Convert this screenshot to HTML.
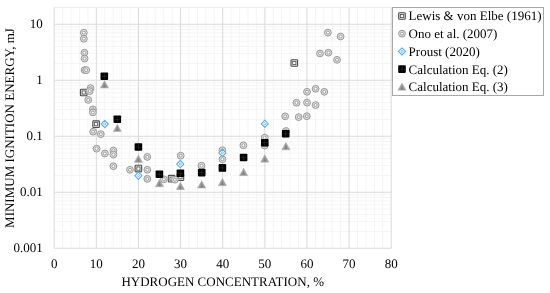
<!DOCTYPE html>
<html><head><meta charset="utf-8"><style>
html,body{margin:0;padding:0;background:#fff;width:550px;height:293px;overflow:hidden;font-family:"Liberation Serif",serif}
text{text-rendering:geometricPrecision}
</style></head><body>
<svg width="550" height="293" viewBox="0 0 550 293" style="position:absolute;left:0;top:0;filter:blur(0.3px)">

<rect width="550" height="293" fill="#fff"/>
<line x1="62.62" y1="7.39" x2="62.62" y2="248.25" stroke="#f5f5f5" stroke-width="1"/>
<line x1="71.05" y1="7.39" x2="71.05" y2="248.25" stroke="#f5f5f5" stroke-width="1"/>
<line x1="79.48" y1="7.39" x2="79.48" y2="248.25" stroke="#f5f5f5" stroke-width="1"/>
<line x1="87.90" y1="7.39" x2="87.90" y2="248.25" stroke="#f5f5f5" stroke-width="1"/>
<line x1="104.75" y1="7.39" x2="104.75" y2="248.25" stroke="#f5f5f5" stroke-width="1"/>
<line x1="113.18" y1="7.39" x2="113.18" y2="248.25" stroke="#f5f5f5" stroke-width="1"/>
<line x1="121.60" y1="7.39" x2="121.60" y2="248.25" stroke="#f5f5f5" stroke-width="1"/>
<line x1="130.03" y1="7.39" x2="130.03" y2="248.25" stroke="#f5f5f5" stroke-width="1"/>
<line x1="146.88" y1="7.39" x2="146.88" y2="248.25" stroke="#f5f5f5" stroke-width="1"/>
<line x1="155.30" y1="7.39" x2="155.30" y2="248.25" stroke="#f5f5f5" stroke-width="1"/>
<line x1="163.73" y1="7.39" x2="163.73" y2="248.25" stroke="#f5f5f5" stroke-width="1"/>
<line x1="172.15" y1="7.39" x2="172.15" y2="248.25" stroke="#f5f5f5" stroke-width="1"/>
<line x1="189.00" y1="7.39" x2="189.00" y2="248.25" stroke="#f5f5f5" stroke-width="1"/>
<line x1="197.43" y1="7.39" x2="197.43" y2="248.25" stroke="#f5f5f5" stroke-width="1"/>
<line x1="205.85" y1="7.39" x2="205.85" y2="248.25" stroke="#f5f5f5" stroke-width="1"/>
<line x1="214.28" y1="7.39" x2="214.28" y2="248.25" stroke="#f5f5f5" stroke-width="1"/>
<line x1="231.12" y1="7.39" x2="231.12" y2="248.25" stroke="#f5f5f5" stroke-width="1"/>
<line x1="239.55" y1="7.39" x2="239.55" y2="248.25" stroke="#f5f5f5" stroke-width="1"/>
<line x1="247.98" y1="7.39" x2="247.98" y2="248.25" stroke="#f5f5f5" stroke-width="1"/>
<line x1="256.40" y1="7.39" x2="256.40" y2="248.25" stroke="#f5f5f5" stroke-width="1"/>
<line x1="273.25" y1="7.39" x2="273.25" y2="248.25" stroke="#f5f5f5" stroke-width="1"/>
<line x1="281.68" y1="7.39" x2="281.68" y2="248.25" stroke="#f5f5f5" stroke-width="1"/>
<line x1="290.10" y1="7.39" x2="290.10" y2="248.25" stroke="#f5f5f5" stroke-width="1"/>
<line x1="298.53" y1="7.39" x2="298.53" y2="248.25" stroke="#f5f5f5" stroke-width="1"/>
<line x1="315.38" y1="7.39" x2="315.38" y2="248.25" stroke="#f5f5f5" stroke-width="1"/>
<line x1="323.80" y1="7.39" x2="323.80" y2="248.25" stroke="#f5f5f5" stroke-width="1"/>
<line x1="332.23" y1="7.39" x2="332.23" y2="248.25" stroke="#f5f5f5" stroke-width="1"/>
<line x1="340.65" y1="7.39" x2="340.65" y2="248.25" stroke="#f5f5f5" stroke-width="1"/>
<line x1="357.50" y1="7.39" x2="357.50" y2="248.25" stroke="#f5f5f5" stroke-width="1"/>
<line x1="365.93" y1="7.39" x2="365.93" y2="248.25" stroke="#f5f5f5" stroke-width="1"/>
<line x1="374.35" y1="7.39" x2="374.35" y2="248.25" stroke="#f5f5f5" stroke-width="1"/>
<line x1="382.78" y1="7.39" x2="382.78" y2="248.25" stroke="#f5f5f5" stroke-width="1"/>
<line x1="54.20" y1="231.39" x2="391.20" y2="231.39" stroke="#f5f5f5" stroke-width="1"/>
<line x1="54.20" y1="221.53" x2="391.20" y2="221.53" stroke="#f5f5f5" stroke-width="1"/>
<line x1="54.20" y1="214.53" x2="391.20" y2="214.53" stroke="#f5f5f5" stroke-width="1"/>
<line x1="54.20" y1="209.11" x2="391.20" y2="209.11" stroke="#f5f5f5" stroke-width="1"/>
<line x1="54.20" y1="204.67" x2="391.20" y2="204.67" stroke="#f5f5f5" stroke-width="1"/>
<line x1="54.20" y1="200.92" x2="391.20" y2="200.92" stroke="#f5f5f5" stroke-width="1"/>
<line x1="54.20" y1="197.68" x2="391.20" y2="197.68" stroke="#f5f5f5" stroke-width="1"/>
<line x1="54.20" y1="194.81" x2="391.20" y2="194.81" stroke="#f5f5f5" stroke-width="1"/>
<line x1="54.20" y1="175.39" x2="391.20" y2="175.39" stroke="#f5f5f5" stroke-width="1"/>
<line x1="54.20" y1="165.53" x2="391.20" y2="165.53" stroke="#f5f5f5" stroke-width="1"/>
<line x1="54.20" y1="158.53" x2="391.20" y2="158.53" stroke="#f5f5f5" stroke-width="1"/>
<line x1="54.20" y1="153.11" x2="391.20" y2="153.11" stroke="#f5f5f5" stroke-width="1"/>
<line x1="54.20" y1="148.67" x2="391.20" y2="148.67" stroke="#f5f5f5" stroke-width="1"/>
<line x1="54.20" y1="144.92" x2="391.20" y2="144.92" stroke="#f5f5f5" stroke-width="1"/>
<line x1="54.20" y1="141.68" x2="391.20" y2="141.68" stroke="#f5f5f5" stroke-width="1"/>
<line x1="54.20" y1="138.81" x2="391.20" y2="138.81" stroke="#f5f5f5" stroke-width="1"/>
<line x1="54.20" y1="119.39" x2="391.20" y2="119.39" stroke="#f5f5f5" stroke-width="1"/>
<line x1="54.20" y1="109.53" x2="391.20" y2="109.53" stroke="#f5f5f5" stroke-width="1"/>
<line x1="54.20" y1="102.53" x2="391.20" y2="102.53" stroke="#f5f5f5" stroke-width="1"/>
<line x1="54.20" y1="97.11" x2="391.20" y2="97.11" stroke="#f5f5f5" stroke-width="1"/>
<line x1="54.20" y1="92.67" x2="391.20" y2="92.67" stroke="#f5f5f5" stroke-width="1"/>
<line x1="54.20" y1="88.92" x2="391.20" y2="88.92" stroke="#f5f5f5" stroke-width="1"/>
<line x1="54.20" y1="85.68" x2="391.20" y2="85.68" stroke="#f5f5f5" stroke-width="1"/>
<line x1="54.20" y1="82.81" x2="391.20" y2="82.81" stroke="#f5f5f5" stroke-width="1"/>
<line x1="54.20" y1="63.39" x2="391.20" y2="63.39" stroke="#f5f5f5" stroke-width="1"/>
<line x1="54.20" y1="53.53" x2="391.20" y2="53.53" stroke="#f5f5f5" stroke-width="1"/>
<line x1="54.20" y1="46.53" x2="391.20" y2="46.53" stroke="#f5f5f5" stroke-width="1"/>
<line x1="54.20" y1="41.11" x2="391.20" y2="41.11" stroke="#f5f5f5" stroke-width="1"/>
<line x1="54.20" y1="36.67" x2="391.20" y2="36.67" stroke="#f5f5f5" stroke-width="1"/>
<line x1="54.20" y1="32.92" x2="391.20" y2="32.92" stroke="#f5f5f5" stroke-width="1"/>
<line x1="54.20" y1="29.68" x2="391.20" y2="29.68" stroke="#f5f5f5" stroke-width="1"/>
<line x1="54.20" y1="26.81" x2="391.20" y2="26.81" stroke="#f5f5f5" stroke-width="1"/>
<line x1="54.20" y1="7.39" x2="391.20" y2="7.39" stroke="#f5f5f5" stroke-width="1"/>
<line x1="54.20" y1="7.39" x2="391.20" y2="7.39" stroke="#ececec" stroke-width="1"/>
<line x1="54.20" y1="7.39" x2="54.20" y2="248.25" stroke="#dadada" stroke-width="1"/>
<line x1="96.33" y1="7.39" x2="96.33" y2="248.25" stroke="#dadada" stroke-width="1"/>
<line x1="138.45" y1="7.39" x2="138.45" y2="248.25" stroke="#dadada" stroke-width="1"/>
<line x1="180.58" y1="7.39" x2="180.58" y2="248.25" stroke="#dadada" stroke-width="1"/>
<line x1="222.70" y1="7.39" x2="222.70" y2="248.25" stroke="#dadada" stroke-width="1"/>
<line x1="264.83" y1="7.39" x2="264.83" y2="248.25" stroke="#dadada" stroke-width="1"/>
<line x1="306.95" y1="7.39" x2="306.95" y2="248.25" stroke="#dadada" stroke-width="1"/>
<line x1="349.07" y1="7.39" x2="349.07" y2="248.25" stroke="#dadada" stroke-width="1"/>
<line x1="391.20" y1="7.39" x2="391.20" y2="248.25" stroke="#dadada" stroke-width="1"/>
<line x1="54.20" y1="248.25" x2="391.20" y2="248.25" stroke="#dadada" stroke-width="1"/>
<line x1="54.20" y1="192.25" x2="391.20" y2="192.25" stroke="#dadada" stroke-width="1"/>
<line x1="54.20" y1="136.25" x2="391.20" y2="136.25" stroke="#dadada" stroke-width="1"/>
<line x1="54.20" y1="80.25" x2="391.20" y2="80.25" stroke="#dadada" stroke-width="1"/>
<line x1="54.20" y1="24.25" x2="391.20" y2="24.25" stroke="#dadada" stroke-width="1"/>
<g transform="translate(83.7,92.5)"><rect x="-3.3" y="-3.3" width="6.6" height="6.6" rx="0.8" fill="#e0e0e0" stroke="#505050" stroke-width="1.1"/><rect x="-1.6" y="-1.6" width="3.2" height="3.2" fill="#fff" stroke="#5a5a5a" stroke-width="0.85"/></g>
<g transform="translate(96.1,124.2)"><rect x="-3.3" y="-3.3" width="6.6" height="6.6" rx="0.8" fill="#e0e0e0" stroke="#505050" stroke-width="1.1"/><rect x="-1.6" y="-1.6" width="3.2" height="3.2" fill="#fff" stroke="#5a5a5a" stroke-width="0.85"/></g>
<g transform="translate(138.4,168.6)"><rect x="-3.3" y="-3.3" width="6.6" height="6.6" rx="0.8" fill="#e0e0e0" stroke="#505050" stroke-width="1.1"/><rect x="-1.6" y="-1.6" width="3.2" height="3.2" fill="#fff" stroke="#5a5a5a" stroke-width="0.85"/></g>
<g transform="translate(171.6,178.7)"><rect x="-3.3" y="-3.3" width="6.6" height="6.6" rx="0.8" fill="#e0e0e0" stroke="#505050" stroke-width="1.1"/><rect x="-1.6" y="-1.6" width="3.2" height="3.2" fill="#fff" stroke="#5a5a5a" stroke-width="0.85"/></g>
<g transform="translate(180.4,177.2)"><rect x="-3.3" y="-3.3" width="6.6" height="6.6" rx="0.8" fill="#e0e0e0" stroke="#505050" stroke-width="1.1"/><rect x="-1.6" y="-1.6" width="3.2" height="3.2" fill="#fff" stroke="#5a5a5a" stroke-width="0.85"/></g>
<g transform="translate(294.3,63)"><rect x="-3.3" y="-3.3" width="6.6" height="6.6" rx="0.8" fill="#e0e0e0" stroke="#505050" stroke-width="1.1"/><rect x="-1.6" y="-1.6" width="3.2" height="3.2" fill="#fff" stroke="#5a5a5a" stroke-width="0.85"/></g>
<g transform="translate(83.8,32.7)"><circle r="3.4" fill="#dedede" stroke="#999" stroke-width="1"/><circle r="1.5" fill="#fff" stroke="#999" stroke-width="0.9"/></g>
<g transform="translate(83.8,38.7)"><circle r="3.4" fill="#dedede" stroke="#999" stroke-width="1"/><circle r="1.5" fill="#fff" stroke="#999" stroke-width="0.9"/></g>
<g transform="translate(84.4,52.7)"><circle r="3.4" fill="#dedede" stroke="#999" stroke-width="1"/><circle r="1.5" fill="#fff" stroke="#999" stroke-width="0.9"/></g>
<g transform="translate(84.6,58.6)"><circle r="3.4" fill="#dedede" stroke="#999" stroke-width="1"/><circle r="1.5" fill="#fff" stroke="#999" stroke-width="0.9"/></g>
<g transform="translate(84.6,70.1)"><circle r="3.4" fill="#dedede" stroke="#999" stroke-width="1"/><circle r="1.5" fill="#fff" stroke="#999" stroke-width="0.9"/></g>
<g transform="translate(86.2,70.1)"><circle r="3.4" fill="#dedede" stroke="#999" stroke-width="1"/><circle r="1.5" fill="#fff" stroke="#999" stroke-width="0.9"/></g>
<g transform="translate(90.6,88.1)"><circle r="3.4" fill="#dedede" stroke="#999" stroke-width="1"/><circle r="1.5" fill="#fff" stroke="#999" stroke-width="0.9"/></g>
<g transform="translate(89.7,91.1)"><circle r="3.4" fill="#dedede" stroke="#999" stroke-width="1"/><circle r="1.5" fill="#fff" stroke="#999" stroke-width="0.9"/></g>
<g transform="translate(88.2,99.9)"><circle r="3.4" fill="#dedede" stroke="#999" stroke-width="1"/><circle r="1.5" fill="#fff" stroke="#999" stroke-width="0.9"/></g>
<g transform="translate(92.9,109.3)"><circle r="3.4" fill="#dedede" stroke="#999" stroke-width="1"/><circle r="1.5" fill="#fff" stroke="#999" stroke-width="0.9"/></g>
<g transform="translate(92.9,112.4)"><circle r="3.4" fill="#dedede" stroke="#999" stroke-width="1"/><circle r="1.5" fill="#fff" stroke="#999" stroke-width="0.9"/></g>
<g transform="translate(93.1,131.7)"><circle r="3.4" fill="#dedede" stroke="#999" stroke-width="1"/><circle r="1.5" fill="#fff" stroke="#999" stroke-width="0.9"/></g>
<g transform="translate(100.8,134.1)"><circle r="3.4" fill="#dedede" stroke="#999" stroke-width="1"/><circle r="1.5" fill="#fff" stroke="#999" stroke-width="0.9"/></g>
<g transform="translate(96.6,148.7)"><circle r="3.4" fill="#dedede" stroke="#999" stroke-width="1"/><circle r="1.5" fill="#fff" stroke="#999" stroke-width="0.9"/></g>
<g transform="translate(104.9,153.5)"><circle r="3.4" fill="#dedede" stroke="#999" stroke-width="1"/><circle r="1.5" fill="#fff" stroke="#999" stroke-width="0.9"/></g>
<g transform="translate(113.4,150.5)"><circle r="3.4" fill="#dedede" stroke="#999" stroke-width="1"/><circle r="1.5" fill="#fff" stroke="#999" stroke-width="0.9"/></g>
<g transform="translate(113.4,154.6)"><circle r="3.4" fill="#dedede" stroke="#999" stroke-width="1"/><circle r="1.5" fill="#fff" stroke="#999" stroke-width="0.9"/></g>
<g transform="translate(113.4,166.2)"><circle r="3.4" fill="#dedede" stroke="#999" stroke-width="1"/><circle r="1.5" fill="#fff" stroke="#999" stroke-width="0.9"/></g>
<g transform="translate(130.0,169.8)"><circle r="3.4" fill="#dedede" stroke="#999" stroke-width="1"/><circle r="1.5" fill="#fff" stroke="#999" stroke-width="0.9"/></g>
<g transform="translate(147.3,156.9)"><circle r="3.4" fill="#dedede" stroke="#999" stroke-width="1"/><circle r="1.5" fill="#fff" stroke="#999" stroke-width="0.9"/></g>
<g transform="translate(147.3,169.8)"><circle r="3.4" fill="#dedede" stroke="#999" stroke-width="1"/><circle r="1.5" fill="#fff" stroke="#999" stroke-width="0.9"/></g>
<g transform="translate(147.3,178.9)"><circle r="3.4" fill="#dedede" stroke="#999" stroke-width="1"/><circle r="1.5" fill="#fff" stroke="#999" stroke-width="0.9"/></g>
<g transform="translate(163.9,179.3)"><circle r="3.4" fill="#dedede" stroke="#999" stroke-width="1"/><circle r="1.5" fill="#fff" stroke="#999" stroke-width="0.9"/></g>
<g transform="translate(174.9,179.7)"><circle r="3.4" fill="#dedede" stroke="#999" stroke-width="1"/><circle r="1.5" fill="#fff" stroke="#999" stroke-width="0.9"/></g>
<g transform="translate(180.7,155.7)"><circle r="3.4" fill="#dedede" stroke="#999" stroke-width="1"/><circle r="1.5" fill="#fff" stroke="#999" stroke-width="0.9"/></g>
<g transform="translate(201.5,165.7)"><circle r="3.4" fill="#dedede" stroke="#999" stroke-width="1"/><circle r="1.5" fill="#fff" stroke="#999" stroke-width="0.9"/></g>
<g transform="translate(222.4,150.3)"><circle r="3.4" fill="#dedede" stroke="#999" stroke-width="1"/><circle r="1.5" fill="#fff" stroke="#999" stroke-width="0.9"/></g>
<g transform="translate(222.4,159.3)"><circle r="3.4" fill="#dedede" stroke="#999" stroke-width="1"/><circle r="1.5" fill="#fff" stroke="#999" stroke-width="0.9"/></g>
<g transform="translate(243.4,145.3)"><circle r="3.4" fill="#dedede" stroke="#999" stroke-width="1"/><circle r="1.5" fill="#fff" stroke="#999" stroke-width="0.9"/></g>
<g transform="translate(264.7,137.7)"><circle r="3.4" fill="#dedede" stroke="#999" stroke-width="1"/><circle r="1.5" fill="#fff" stroke="#999" stroke-width="0.9"/></g>
<g transform="translate(264.7,145.6)"><circle r="3.4" fill="#dedede" stroke="#999" stroke-width="1"/><circle r="1.5" fill="#fff" stroke="#999" stroke-width="0.9"/></g>
<g transform="translate(285.2,116.3)"><circle r="3.4" fill="#dedede" stroke="#999" stroke-width="1"/><circle r="1.5" fill="#fff" stroke="#999" stroke-width="0.9"/></g>
<g transform="translate(286.1,131.0)"><circle r="3.4" fill="#dedede" stroke="#999" stroke-width="1"/><circle r="1.5" fill="#fff" stroke="#999" stroke-width="0.9"/></g>
<g transform="translate(298.7,117.1)"><circle r="3.4" fill="#dedede" stroke="#999" stroke-width="1"/><circle r="1.5" fill="#fff" stroke="#999" stroke-width="0.9"/></g>
<g transform="translate(306.8,116.2)"><circle r="3.4" fill="#dedede" stroke="#999" stroke-width="1"/><circle r="1.5" fill="#fff" stroke="#999" stroke-width="0.9"/></g>
<g transform="translate(296.5,102.8)"><circle r="3.4" fill="#dedede" stroke="#999" stroke-width="1"/><circle r="1.5" fill="#fff" stroke="#999" stroke-width="0.9"/></g>
<g transform="translate(307.0,102.6)"><circle r="3.4" fill="#dedede" stroke="#999" stroke-width="1"/><circle r="1.5" fill="#fff" stroke="#999" stroke-width="0.9"/></g>
<g transform="translate(315.6,105.1)"><circle r="3.4" fill="#dedede" stroke="#999" stroke-width="1"/><circle r="1.5" fill="#fff" stroke="#999" stroke-width="0.9"/></g>
<g transform="translate(307.0,91.8)"><circle r="3.4" fill="#dedede" stroke="#999" stroke-width="1"/><circle r="1.5" fill="#fff" stroke="#999" stroke-width="0.9"/></g>
<g transform="translate(315.6,88.8)"><circle r="3.4" fill="#dedede" stroke="#999" stroke-width="1"/><circle r="1.5" fill="#fff" stroke="#999" stroke-width="0.9"/></g>
<g transform="translate(324.3,91.8)"><circle r="3.4" fill="#dedede" stroke="#999" stroke-width="1"/><circle r="1.5" fill="#fff" stroke="#999" stroke-width="0.9"/></g>
<g transform="translate(320.0,53.5)"><circle r="3.4" fill="#dedede" stroke="#999" stroke-width="1"/><circle r="1.5" fill="#fff" stroke="#999" stroke-width="0.9"/></g>
<g transform="translate(328.4,52.7)"><circle r="3.4" fill="#dedede" stroke="#999" stroke-width="1"/><circle r="1.5" fill="#fff" stroke="#999" stroke-width="0.9"/></g>
<g transform="translate(337.0,59.8)"><circle r="3.4" fill="#dedede" stroke="#999" stroke-width="1"/><circle r="1.5" fill="#fff" stroke="#999" stroke-width="0.9"/></g>
<g transform="translate(327.9,32.6)"><circle r="3.4" fill="#dedede" stroke="#999" stroke-width="1"/><circle r="1.5" fill="#fff" stroke="#999" stroke-width="0.9"/></g>
<g transform="translate(340.6,36.5)"><circle r="3.4" fill="#dedede" stroke="#999" stroke-width="1"/><circle r="1.5" fill="#fff" stroke="#999" stroke-width="0.9"/></g>
<g transform="translate(104.7,124)"><path d="M0,-3.6 L3.6,0 L0,3.6 L-3.6,0Z" fill="#fff" stroke="#5eace6" stroke-width="1.1" stroke-linejoin="round"/><path d="M0,-1.3 L1.3,0 L0,1.3 L-1.3,0Z" fill="#d5e9f8" stroke="#7ab9ea" stroke-width="0.8" stroke-linejoin="round"/></g>
<g transform="translate(138.4,175.7)"><path d="M0,-3.6 L3.6,0 L0,3.6 L-3.6,0Z" fill="#fff" stroke="#5eace6" stroke-width="1.1" stroke-linejoin="round"/><path d="M0,-1.3 L1.3,0 L0,1.3 L-1.3,0Z" fill="#d5e9f8" stroke="#7ab9ea" stroke-width="0.8" stroke-linejoin="round"/></g>
<g transform="translate(180.3,164.1)"><path d="M0,-3.6 L3.6,0 L0,3.6 L-3.6,0Z" fill="#fff" stroke="#5eace6" stroke-width="1.1" stroke-linejoin="round"/><path d="M0,-1.3 L1.3,0 L0,1.3 L-1.3,0Z" fill="#d5e9f8" stroke="#7ab9ea" stroke-width="0.8" stroke-linejoin="round"/></g>
<g transform="translate(222.4,152.9)"><path d="M0,-3.6 L3.6,0 L0,3.6 L-3.6,0Z" fill="#fff" stroke="#5eace6" stroke-width="1.1" stroke-linejoin="round"/><path d="M0,-1.3 L1.3,0 L0,1.3 L-1.3,0Z" fill="#d5e9f8" stroke="#7ab9ea" stroke-width="0.8" stroke-linejoin="round"/></g>
<g transform="translate(264.8,123.8)"><path d="M0,-3.6 L3.6,0 L0,3.6 L-3.6,0Z" fill="#fff" stroke="#5eace6" stroke-width="1.1" stroke-linejoin="round"/><path d="M0,-1.3 L1.3,0 L0,1.3 L-1.3,0Z" fill="#d5e9f8" stroke="#7ab9ea" stroke-width="0.8" stroke-linejoin="round"/></g>
<g transform="translate(104.3,76.2)"><rect x="-3.8" y="-3.8" width="7.6" height="7.6" rx="0.8" fill="#000"/><path d="M0,-2.8 V2.8 M-2.8,0 H2.8" stroke="#2a2a2a" stroke-width="0.7"/></g>
<g transform="translate(117.3,119.3)"><rect x="-3.8" y="-3.8" width="7.6" height="7.6" rx="0.8" fill="#000"/><path d="M0,-2.8 V2.8 M-2.8,0 H2.8" stroke="#2a2a2a" stroke-width="0.7"/></g>
<g transform="translate(138.4,147.0)"><rect x="-3.8" y="-3.8" width="7.6" height="7.6" rx="0.8" fill="#000"/><path d="M0,-2.8 V2.8 M-2.8,0 H2.8" stroke="#2a2a2a" stroke-width="0.7"/></g>
<g transform="translate(159.4,174.3)"><rect x="-3.8" y="-3.8" width="7.6" height="7.6" rx="0.8" fill="#000"/><path d="M0,-2.8 V2.8 M-2.8,0 H2.8" stroke="#2a2a2a" stroke-width="0.7"/></g>
<g transform="translate(180.4,173.3)"><rect x="-3.8" y="-3.8" width="7.6" height="7.6" rx="0.8" fill="#000"/><path d="M0,-2.8 V2.8 M-2.8,0 H2.8" stroke="#2a2a2a" stroke-width="0.7"/></g>
<g transform="translate(201.7,172.6)"><rect x="-3.8" y="-3.8" width="7.6" height="7.6" rx="0.8" fill="#000"/><path d="M0,-2.8 V2.8 M-2.8,0 H2.8" stroke="#2a2a2a" stroke-width="0.7"/></g>
<g transform="translate(222.4,167.9)"><rect x="-3.8" y="-3.8" width="7.6" height="7.6" rx="0.8" fill="#000"/><path d="M0,-2.8 V2.8 M-2.8,0 H2.8" stroke="#2a2a2a" stroke-width="0.7"/></g>
<g transform="translate(243.6,157.5)"><rect x="-3.8" y="-3.8" width="7.6" height="7.6" rx="0.8" fill="#000"/><path d="M0,-2.8 V2.8 M-2.8,0 H2.8" stroke="#2a2a2a" stroke-width="0.7"/></g>
<g transform="translate(264.8,142.8)"><rect x="-3.8" y="-3.8" width="7.6" height="7.6" rx="0.8" fill="#000"/><path d="M0,-2.8 V2.8 M-2.8,0 H2.8" stroke="#2a2a2a" stroke-width="0.7"/></g>
<g transform="translate(285.7,133.8)"><rect x="-3.8" y="-3.8" width="7.6" height="7.6" rx="0.8" fill="#000"/><path d="M0,-2.8 V2.8 M-2.8,0 H2.8" stroke="#2a2a2a" stroke-width="0.7"/></g>
<g transform="translate(104.5,84.45)"><path d="M0,-3.9 L4.1,3.5 L-4.1,3.5Z" fill="#9c9c9c" stroke="#b0b0b0" stroke-width="0.5"/><path d="M0,-1.5 L1.3,2.9 L-1.3,2.9Z" fill="#808080"/></g>
<g transform="translate(117.3,128.1)"><path d="M0,-3.9 L4.1,3.5 L-4.1,3.5Z" fill="#9c9c9c" stroke="#b0b0b0" stroke-width="0.5"/><path d="M0,-1.5 L1.3,2.9 L-1.3,2.9Z" fill="#808080"/></g>
<g transform="translate(138.4,158.9)"><path d="M0,-3.9 L4.1,3.5 L-4.1,3.5Z" fill="#9c9c9c" stroke="#b0b0b0" stroke-width="0.5"/><path d="M0,-1.5 L1.3,2.9 L-1.3,2.9Z" fill="#808080"/></g>
<g transform="translate(159.5,183.25)"><path d="M0,-3.9 L4.1,3.5 L-4.1,3.5Z" fill="#9c9c9c" stroke="#b0b0b0" stroke-width="0.5"/><path d="M0,-1.5 L1.3,2.9 L-1.3,2.9Z" fill="#808080"/></g>
<g transform="translate(180.4,186.15)"><path d="M0,-3.9 L4.1,3.5 L-4.1,3.5Z" fill="#9c9c9c" stroke="#b0b0b0" stroke-width="0.5"/><path d="M0,-1.5 L1.3,2.9 L-1.3,2.9Z" fill="#808080"/></g>
<g transform="translate(201.7,184.55)"><path d="M0,-3.9 L4.1,3.5 L-4.1,3.5Z" fill="#9c9c9c" stroke="#b0b0b0" stroke-width="0.5"/><path d="M0,-1.5 L1.3,2.9 L-1.3,2.9Z" fill="#808080"/></g>
<g transform="translate(222.4,182.2)"><path d="M0,-3.9 L4.1,3.5 L-4.1,3.5Z" fill="#9c9c9c" stroke="#b0b0b0" stroke-width="0.5"/><path d="M0,-1.5 L1.3,2.9 L-1.3,2.9Z" fill="#808080"/></g>
<g transform="translate(243.6,172.15)"><path d="M0,-3.9 L4.1,3.5 L-4.1,3.5Z" fill="#9c9c9c" stroke="#b0b0b0" stroke-width="0.5"/><path d="M0,-1.5 L1.3,2.9 L-1.3,2.9Z" fill="#808080"/></g>
<g transform="translate(264.8,158.65)"><path d="M0,-3.9 L4.1,3.5 L-4.1,3.5Z" fill="#9c9c9c" stroke="#b0b0b0" stroke-width="0.5"/><path d="M0,-1.5 L1.3,2.9 L-1.3,2.9Z" fill="#808080"/></g>
<g transform="translate(285.9,146.3)"><path d="M0,-3.9 L4.1,3.5 L-4.1,3.5Z" fill="#9c9c9c" stroke="#b0b0b0" stroke-width="0.5"/><path d="M0,-1.5 L1.3,2.9 L-1.3,2.9Z" fill="#808080"/></g>
<rect x="392.5" y="7.5" width="151" height="88" fill="#fff" stroke="#a8a8a8" stroke-width="1"/>
<g transform="translate(402,16.0)"><rect x="-3.3" y="-3.3" width="6.6" height="6.6" rx="0.8" fill="#e0e0e0" stroke="#505050" stroke-width="1.1"/><rect x="-1.6" y="-1.6" width="3.2" height="3.2" fill="#fff" stroke="#5a5a5a" stroke-width="0.85"/></g>
<text x="408.6" y="20.40" font-family="Liberation Serif" font-size="13" fill="#000">Lewis &amp; von Elbe (1961)</text>
<g transform="translate(402,33.7)"><circle r="3.4" fill="#dedede" stroke="#999" stroke-width="1"/><circle r="1.5" fill="#fff" stroke="#999" stroke-width="0.9"/></g>
<text x="408.6" y="38.10" font-family="Liberation Serif" font-size="13" fill="#000">Ono et al. (2007)</text>
<g transform="translate(402,51.4)"><path d="M0,-3.6 L3.6,0 L0,3.6 L-3.6,0Z" fill="#fff" stroke="#5eace6" stroke-width="1.1" stroke-linejoin="round"/><path d="M0,-1.3 L1.3,0 L0,1.3 L-1.3,0Z" fill="#d5e9f8" stroke="#7ab9ea" stroke-width="0.8" stroke-linejoin="round"/></g>
<text x="408.6" y="55.80" font-family="Liberation Serif" font-size="13" fill="#000">Proust (2020)</text>
<g transform="translate(402,69.1)"><rect x="-3.8" y="-3.8" width="7.6" height="7.6" rx="0.8" fill="#000"/><path d="M0,-2.8 V2.8 M-2.8,0 H2.8" stroke="#2a2a2a" stroke-width="0.7"/></g>
<text x="408.6" y="73.50" font-family="Liberation Serif" font-size="13" fill="#000">Calculation Eq. (2)</text>
<g transform="translate(402,86.8)"><path d="M0,-3.9 L4.1,3.5 L-4.1,3.5Z" fill="#9c9c9c" stroke="#b0b0b0" stroke-width="0.5"/><path d="M0,-1.5 L1.3,2.9 L-1.3,2.9Z" fill="#808080"/></g>
<text x="408.6" y="91.20" font-family="Liberation Serif" font-size="13" fill="#000">Calculation Eq. (3)</text>
<text x="42.8" y="28.05" text-anchor="end" font-family="Liberation Serif" font-size="13" fill="#000">10</text>
<text x="42.8" y="84.05" text-anchor="end" font-family="Liberation Serif" font-size="13" fill="#000">1</text>
<text x="42.8" y="140.05" text-anchor="end" font-family="Liberation Serif" font-size="13" fill="#000">0.1</text>
<text x="42.8" y="196.05" text-anchor="end" font-family="Liberation Serif" font-size="13" fill="#000">0.01</text>
<text x="42.8" y="252.05" text-anchor="end" font-family="Liberation Serif" font-size="13" fill="#000">0.001</text>
<text x="54.20" y="268.4" text-anchor="middle" font-family="Liberation Serif" font-size="13" fill="#000">0</text>
<text x="96.33" y="268.4" text-anchor="middle" font-family="Liberation Serif" font-size="13" fill="#000">10</text>
<text x="138.45" y="268.4" text-anchor="middle" font-family="Liberation Serif" font-size="13" fill="#000">20</text>
<text x="180.58" y="268.4" text-anchor="middle" font-family="Liberation Serif" font-size="13" fill="#000">30</text>
<text x="222.70" y="268.4" text-anchor="middle" font-family="Liberation Serif" font-size="13" fill="#000">40</text>
<text x="264.83" y="268.4" text-anchor="middle" font-family="Liberation Serif" font-size="13" fill="#000">50</text>
<text x="306.95" y="268.4" text-anchor="middle" font-family="Liberation Serif" font-size="13" fill="#000">60</text>
<text x="349.07" y="268.4" text-anchor="middle" font-family="Liberation Serif" font-size="13" fill="#000">70</text>
<text x="391.20" y="268.4" text-anchor="middle" font-family="Liberation Serif" font-size="13" fill="#000">80</text>
<text x="222.70" y="285.8" text-anchor="middle" font-family="Liberation Serif" font-size="13" fill="#000">HYDROGEN CONCENTRATION, %</text>
<text transform="translate(14.3,128.0) rotate(-90)" text-anchor="middle" font-family="Liberation Serif" font-size="13" fill="#000">MINIMUM IGNITION ENERGY, mJ</text>
</svg>
</body></html>
